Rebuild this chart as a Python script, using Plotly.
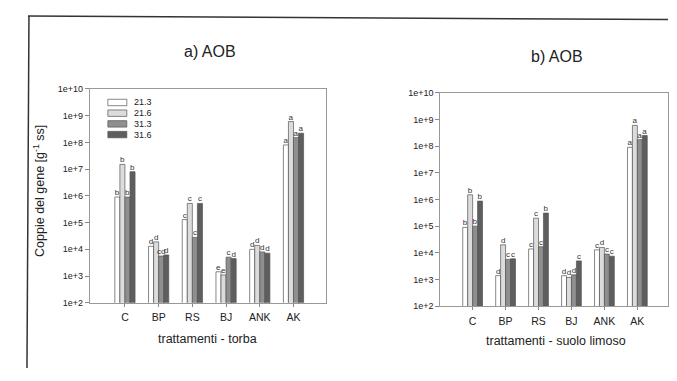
import plotly.graph_objects as go

# the page body keeps its default 8px margin; size the figure so the page is exactly 677x381
OFF = 8
W, H = 677 - 2 * OFF, 381 - 2 * OFF

categories = ["C", "BP", "RS", "BJ", "ANK", "AK"]
series_names = ["21.3", "21.6", "31.3", "31.6"]
colors = ["#ffffff", "#dcdcdc", "#8f8f8f", "#5e5e5e"]

# panel a) torba
torba_213 = [9e5, 1.3e4, 1.3e5, 1.45e3, 1.0e4, 8e7]
torba_216 = [1.5e7, 1.9e4, 5.2e5, 1.1e3, 1.4e4, 6e8]
torba_313 = [9e5, 5.6e3, 2.8e4, 5.1e3, 8e3, 1.5e8]
torba_316 = [8e6, 6.2e3, 5.2e5, 4.5e3, 7.2e3, 2.2e8]

torba_lab_213 = ["b", "d", "c", "e", "d", "a"]
torba_lab_216 = ["b", "d", "c", "e", "d", "a"]
torba_lab_313 = ["b", "cd", "c", "c", "d", "a"]
torba_lab_316 = ["b", "d", "c", "d", "d", "a"]

# panel b) suolo limoso
limo_213 = [9e4, 1.4e3, 1.4e4, 1.4e3, 1.3e4, 9e7]
limo_216 = [1.5e6, 2e4, 2e5, 1.2e3, 1.6e4, 6e8]
limo_313 = [1e5, 5.7e3, 1.7e4, 1.5e3, 9e3, 1.75e8]
limo_316 = [8.7e5, 6e3, 3.1e5, 5e3, 7.5e3, 2.5e8]

limo_lab_213 = ["b", "d", "c", "d", "c", "a"]
limo_lab_216 = ["b", "d", "c", "d", "d", "a"]
limo_lab_313 = ["b", "c", "c", "d", "c", "a"]
limo_lab_316 = ["b", "c", "b", "c", "c", "a"]

ytick_vals = [1e2, 1e3, 1e4, 1e5, 1e6, 1e7, 1e8, 1e9, 1e10]
ytick_text = ["1e+2", "1e+3", "1e+4", "1e+5", "1e+6", "1e+7", "1e+8", "1e+9", "1e+10"]

FONT = "Liberation Sans, Arial, sans-serif"

def px(x):
    return min(max((x - OFF) / W, 0), 1)

def py(y):
    return min(max(1 - (y - OFF) / H, 0), 1)

fig = go.Figure()

panels = [
    ("x", "y", [torba_213, torba_216, torba_313, torba_316],
     [torba_lab_213, torba_lab_216, torba_lab_313, torba_lab_316]),
    ("x2", "y2", [limo_213, limo_216, limo_313, limo_316],
     [limo_lab_213, limo_lab_216, limo_lab_313, limo_lab_316]),
]

for xa, ya, vals, labs in panels:
    for name, col, v, lb in zip(series_names, colors, vals, labs):
        fig.add_trace(go.Bar(
            x=categories, y=v, name=name, xaxis=xa, yaxis=ya,
            marker=dict(color=col, line=dict(color="#555555", width=0.7)),
            text=lb, textposition="outside", constraintext="none",
            textfont=dict(family=FONT, size=8, color="#333333"),
            outsidetextfont=dict(family=FONT, size=8, color="#333333"),
            cliponaxis=False, showlegend=False,
        ))

axis_common = dict(showline=True, mirror=True, linecolor="#999999", linewidth=1,
                   showgrid=False, zeroline=False)

fig.update_layout(
    width=W, height=H,
    margin=dict(l=0, r=0, t=0, b=0),
    paper_bgcolor="white", plot_bgcolor="white",
    barmode="group", bargap=0.4, bargroupgap=0,
    font=dict(family=FONT, color="#222222"),
    showlegend=False,
    xaxis=dict(domain=[px(90), px(326)], range=[-1.04, 5.95], anchor="y",
               ticks="outside", ticklen=3, tickcolor="#888888",
               tickfont=dict(size=10.5, color="#222222"), ticklabelstandoff=2,
               **axis_common),
    yaxis=dict(domain=[py(306), py(86)], type="log", range=[2, 10], anchor="x",
               tickvals=ytick_vals, ticktext=ytick_text,
               ticks="outside", ticklen=4, tickcolor="#888888",
               tickfont=dict(size=9, color="#222222"), **axis_common),
    xaxis2=dict(domain=[px(441), px(669)], range=[-0.98, 5.93], anchor="y2",
                ticks="outside", ticklen=3, tickcolor="#888888",
                tickfont=dict(size=10.5, color="#222222"), ticklabelstandoff=2,
                **axis_common),
    yaxis2=dict(domain=[py(309.5), py(90)], type="log", range=[2, 10], anchor="x2",
                tickvals=ytick_vals, ticktext=ytick_text,
                ticks="outside", ticklen=4, tickcolor="#888888",
                tickfont=dict(size=9, color="#222222"), **axis_common),
)

annotations = [
    dict(text="a) AOB", x=px(210), y=py(48), font=dict(size=16)),
    dict(text="b) AOB", x=px(558), y=py(53), font=dict(size=16)),
    dict(text="trattamenti - torba", x=px(208), y=py(343), font=dict(size=12.5)),
    dict(text="trattamenti - suolo limoso", x=px(557), y=py(345), font=dict(size=12.5)),
    dict(text="Coppie del gene [g<sup>-1</sup> ss]", x=px(39), y=py(191), textangle=-90,
         font=dict(size=12.5)),
]
for a in annotations:
    a.update(xref="paper", yref="paper", showarrow=False, xanchor="center", yanchor="middle")

shapes = []
# manual legend
legend_rows = [100, 111, 122, 133]
for name, col, cy in zip(series_names, colors, legend_rows):
    shapes.append(dict(type="rect", xref="paper", yref="paper",
                       x0=px(108), x1=px(127), y0=py(cy + 3.3), y1=py(cy - 3.3),
                       fillcolor=col, line=dict(color="#555555", width=0.7)))
    annotations.append(dict(text=name, xref="paper", yref="paper", x=px(132), y=py(cy),
                            xanchor="left", yanchor="middle", showarrow=False,
                            font=dict(size=9, color="#222222")))

# outer page frame from the scan
shapes.append(dict(type="line", xref="paper", yref="paper", x0=px(28), y0=py(11),
                   x1=px(669), y1=py(14.8), line=dict(color="#333333", width=1.5)))
shapes.append(dict(type="line", xref="paper", yref="paper", x0=px(29), y0=py(11),
                   x1=px(27), y1=py(373), line=dict(color="#333333", width=1.5)))

fig.update_layout(annotations=annotations, shapes=shapes)

fig.write_html("out.html")
